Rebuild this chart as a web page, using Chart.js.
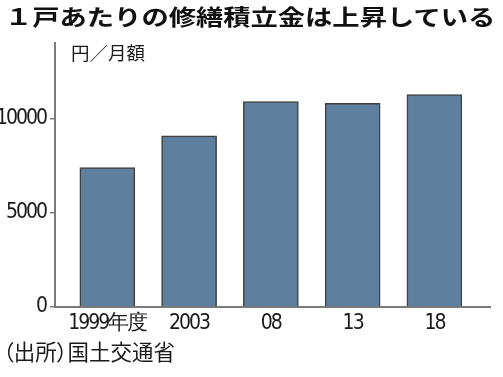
<!DOCTYPE html>
<html lang="ja">
<head>
<meta charset="utf-8">
<script src="https://cdn.jsdelivr.net/npm/chart.js@4/dist/chart.umd.min.js"></script>
<style>
    body { margin: 0; background: #fff; }
    #wrap { position: relative; width: 503px; height: 377px; overflow: hidden; }
    #chart { position: absolute; left: 0; top: 0; }
    .txt { position: absolute; font-family: "Noto Sans CJK JP", sans-serif; color: #1a1a1a; line-height: 1; white-space: nowrap; }
    #title { left: 5px; top: 4px; font-size: 22px; font-weight: bold; transform: scaleX(1.24); transform-origin: left top; color: #111; }
    #unit { left: 71px; top: 43px; font-size: 18.5px; }
    #source { left: 3px; top: 340px; font-size: 21.5px; font-feature-settings: "palt"; }
</style>
</head>
<body>
<div id="wrap">
    <canvas id="chart" width="503" height="377"></canvas>
    <div class="txt" id="title">１戸あたりの修繕積立金は上昇している</div>
    <div class="txt" id="unit">円／月額</div>
    <div class="txt" id="source">（出所）国土交通省</div>
</div>
<script>
// Data
const categories = ["1999年度", "2003", "08", "13", "18"];
const values = [7390, 9080, 10890, 10800, 11260];
const yTicks = [0, 5000, 10000];

const tickFont = { family: "'DejaVu Sans Condensed', sans-serif", size: 21 };
const axisGray = "#7a7a7a";

// squeeze the tick text a little, the original uses a narrow face
const narrowText = {
    id: "narrowText",
    beforeDraw(chart) {
        chart.ctx.letterSpacing = "-2px";
    }
};

new Chart(document.getElementById("chart"), {
    type: "bar",
    data: {
        datasets: [{
            data: values.map((v, i) => ({ x: i, y: v })),
            backgroundColor: "#5f7f9e",
            borderColor: "#404040",
            borderWidth: 1.5,
            barThickness: 55
        }]
    },
    options: {
        responsive: false,
        animation: false,
        layout: { padding: { top: 43, right: 13, left: 0, bottom: 0 } },
        plugins: {
            legend: { display: false },
            tooltip: { enabled: false }
        },
        scales: {
            x: {
                type: "linear",
                offset: false,
                min: -0.64,
                max: 4.68,
                grid: { display: false, drawTicks: false, offset: false },
                border: { display: true, color: axisGray, width: 2 },
                afterBuildTicks: (scale) => {
                    scale.ticks = categories.map((c, i) => ({ value: i }));
                },
                afterFit: (scale) => { scale.height = 70; },
                ticks: {
                    autoSkip: false,
                    maxRotation: 0,
                    padding: 4,
                    color: "#1a1a1a",
                    font: tickFont,
                    callback: (v) => categories[v]
                }
            },
            y: {
                min: 0,
                max: 14000,
                grid: {
                    display: true,
                    drawOnChartArea: false,
                    drawTicks: true,
                    tickLength: 5,
                    color: axisGray,
                    lineWidth: 1.5
                },
                border: { display: true, color: axisGray, width: 2 },
                afterBuildTicks: (scale) => {
                    scale.ticks = yTicks.map(v => ({ value: v }));
                },
                afterFit: (scale) => { scale.width = 55; },
                ticks: {
                    padding: 4,
                    color: "#1a1a1a",
                    font: tickFont,
                    callback: (v) => String(v)
                }
            }
        }
    },
    plugins: [narrowText]
});
</script>
</body>
</html>
